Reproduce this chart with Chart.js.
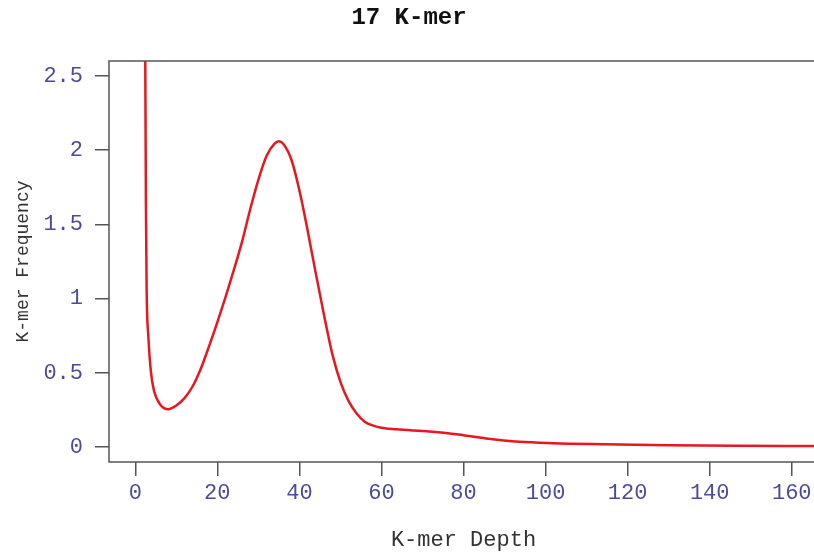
<!DOCTYPE html>
<html>
<head>
<meta charset="utf-8">
<script src="https://cdn.jsdelivr.net/npm/chart.js@4"></script>
<style>
html, body { margin: 0; padding: 0; background: #fff; overflow: hidden; }
#wrap { width: 928px; height: 556px; }
</style>
</head>
<body>
<div id="wrap"><canvas id="kmerChart" width="928" height="556"></canvas></div>
<script>
// values
var depth = [2.3, 2.44, 2.6, 2.77, 3.2, 3.8, 4.6, 6, 7, 8, 10, 12, 14, 16, 18, 20, 22, 24, 26, 28, 30, 32, 34, 35,
             36, 38, 40, 42, 44, 46, 48, 50, 52, 54, 56, 58, 60, 63.6, 71.7, 78.2, 85.5, 93.7, 101.8,
             114, 130, 146.5, 166];
var frequency = [3.2, 2.6, 1.63, 1.07, 0.74, 0.51, 0.376, 0.29, 0.263, 0.255, 0.28, 0.33, 0.41, 0.53, 0.68, 0.84, 1.01,
                 1.19, 1.38, 1.6, 1.8, 1.96, 2.045, 2.06,
                 2.045, 1.94, 1.73, 1.46, 1.17, 0.89, 0.63, 0.44, 0.31, 0.225, 0.17, 0.145, 0.13, 0.12, 0.105, 0.087,
                 0.058, 0.036, 0.027, 0.02, 0.013, 0.009, 0.007];
var xTicks = [0, 20, 40, 60, 80, 100, 120, 140, 160];
var yTicks = [0, 0.5, 1, 1.5, 2, 2.5];

var points = depth.map(function (d, i) { return { x: d, y: frequency[i] }; });

var mono = "'Liberation Mono', 'Courier New', monospace";
var tickColor = '#4b4b9b';

// R style box round the plot region
var boxPlugin = {
    id: 'plotBox',
    afterDraw: function (chart) {
        var a = chart.chartArea, c = chart.ctx;
        c.save();
        c.strokeStyle = '#555';
        c.lineWidth = 1.5;
        c.strokeRect(a.left, a.top, a.right - a.left, a.bottom - a.top);
        c.restore();
    }
};

var ctx = document.getElementById('kmerChart').getContext('2d');

var myChart = new Chart(ctx, {
    type: 'scatter',
    data: {
        datasets: [{
            data: points,
            showLine: true,
            borderColor: 'rgb(232, 22, 30)',
            borderWidth: 2.5,
            pointRadius: 0,
            cubicInterpolationMode: 'monotone'
        }]
    },
    options: {
        responsive: false,
        animation: false,
        layout: { padding: { left: 0, right: 110, top: 0, bottom: 0 } },
        plugins: {
            legend: { display: false },
            tooltip: { enabled: false },
            title: {
                display: true,
                text: '17 K-mer',
                color: '#111',
                font: { family: mono, size: 24, weight: 'bold', lineHeight: 1.2 },
                padding: { top: 4, bottom: 28.2 }
            }
        },
        scales: {
            x: {
                type: 'linear',
                min: -6.4,
                max: 166.4,
                afterBuildTicks: function (s) { s.ticks = xTicks.map(function (v) { return { value: v }; }); },
                afterFit: function (s) { s.height = 94; },
                border: { display: false },
                grid: { drawOnChartArea: false, drawTicks: true, tickLength: 14, color: '#555', lineWidth: 1.5 },
                ticks: {
                    color: tickColor, padding: 4, font: { family: mono, size: 22 }, maxRotation: 0,
                    callback: function (v) { return String(v); }
                },
                title: {
                    display: true,
                    text: 'K-mer Depth',
                    color: '#333',
                    font: { family: mono, size: 22, lineHeight: 1.2 },
                    padding: { top: 0, bottom: 3 }
                }
            },
            y: {
                type: 'linear',
                min: -0.1,
                max: 2.6,
                afterBuildTicks: function (s) { s.ticks = yTicks.map(function (v) { return { value: v }; }); },
                afterFit: function (s) { s.width = 109; },
                border: { display: false },
                grid: { drawOnChartArea: false, drawTicks: true, tickLength: 14, color: '#555', lineWidth: 1.5 },
                ticks: {
                    color: tickColor, padding: 12, font: { family: mono, size: 22 },
                    callback: function (v) { return String(v); }
                },
                title: {
                    display: true,
                    text: 'K-mer Frequency',
                    color: '#333',
                    font: { family: mono, size: 18, lineHeight: 1.2 },
                    padding: { top: 12, bottom: 0 }
                }
            }
        }
    },
    plugins: [boxPlugin]
});
</script>
</body>
</html>
